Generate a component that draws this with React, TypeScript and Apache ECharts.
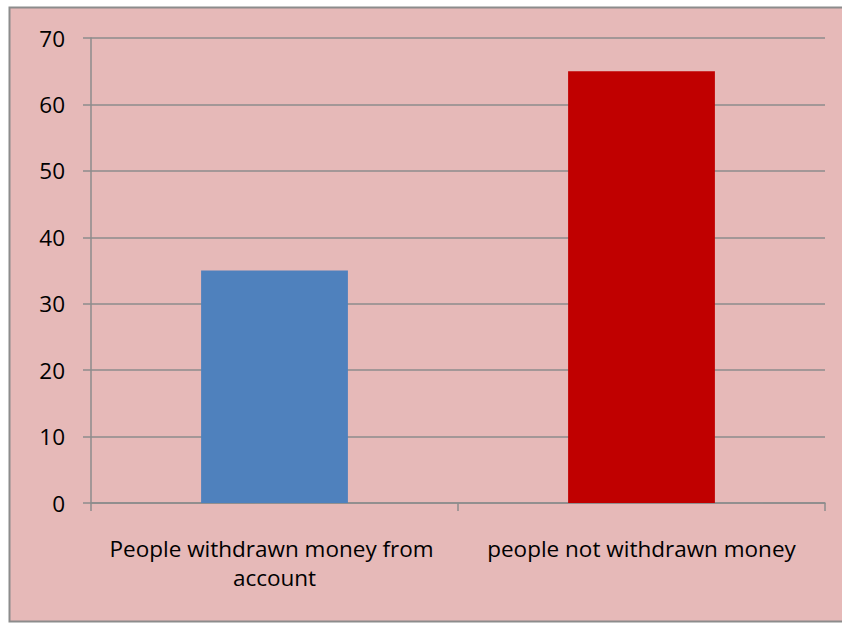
import React, { useEffect, useRef } from "react";
import * as echarts from "echarts";

const categories = ["People withdrawn money from account", "people not withdrawn money"];
const values = [35, 65];
const barColors = ["#4F81BD", "#C00000"];

export default function App() {
  const ref = useRef<HTMLDivElement>(null);
  useEffect(() => {
    const chart = echarts.init(ref.current!, undefined, { renderer: "svg" });
    chart.setOption({
      animation: false,
      backgroundColor: "#ffffff",
      textStyle: { fontFamily: "Open Sans" },
      graphic: [
        {
          type: "rect",
          z: -10,
          silent: true,
          shape: { x: 9.5, y: 7.5, width: 850, height: 614 },
          style: { fill: "#E6B9B8", stroke: "#8C8C8C", lineWidth: 2 },
        },
      ],
      grid: { left: 91, top: 38, right: 17, bottom: 120 },
      xAxis: {
        type: "category",
        data: categories,
        axisLine: { lineStyle: { color: "#8C8C8C", width: 1.5 } },
        axisTick: { show: true, length: 8, lineStyle: { color: "#8C8C8C", width: 1.5 } },
        axisLabel: {
          color: "#000",
          fontSize: 22.5,
          lineHeight: 29,
          margin: 31,
          width: 350,
          overflow: "break",
          interval: 0,
        },
      },
      yAxis: {
        type: "value",
        min: 0,
        max: 70,
        interval: 10,
        axisLine: { show: true, lineStyle: { color: "#8C8C8C", width: 1.5 } },
        axisTick: { show: true, length: 8, lineStyle: { color: "#8C8C8C", width: 1.5 } },
        axisLabel: { color: "#000", fontSize: 22.5, margin: 26 },
        splitLine: { lineStyle: { color: "#8C8C8C", width: 1.5 } },
      },
      series: [
        {
          type: "bar",
          barWidth: "40%",
          data: values.map((v, i) => ({ value: v, itemStyle: { color: barColors[i] } })),
        },
      ],
    });
    return () => chart.dispose();
  }, []);
  return (
    <div
      ref={ref}
      style={{ position: "absolute", left: 0, top: 0, width: 842, height: 623 }}
    />
  );
}
